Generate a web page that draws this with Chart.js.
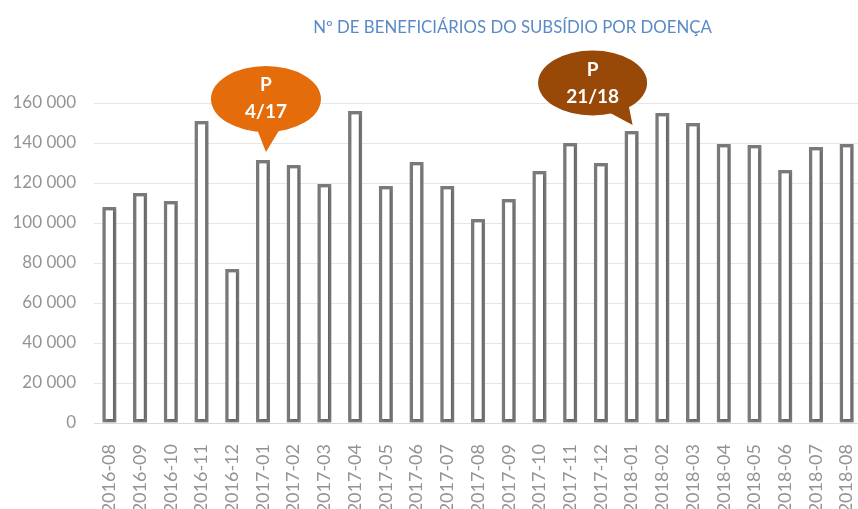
<!DOCTYPE html>
<html>
<head>
<meta charset="utf-8">
<script src="https://cdn.jsdelivr.net/npm/chart.js@4.4.1/dist/chart.umd.min.js"></script>
<style>
  html, body { margin: 0; padding: 0; background: #ffffff; }
  #wrap { width: 858px; height: 509px; overflow: hidden; position: relative; }
  canvas { display: block; }
</style>
</head>
<body>
<div id="wrap"><canvas id="c" width="864" height="522"></canvas></div>
<script>
// ---- Data ----
const categories = [
  "2016-08","2016-09","2016-10","2016-11","2016-12",
  "2017-01","2017-02","2017-03","2017-04","2017-05","2017-06","2017-07",
  "2017-08","2017-09","2017-10","2017-11","2017-12",
  "2018-01","2018-02","2018-03","2018-04","2018-05","2018-06","2018-07","2018-08"
];
const beneficiaries = [
  108000, 115000, 111000, 151000, 77000,
  131500, 129000, 119500, 156000, 118500, 130500, 118500,
  102000, 112000, 126000, 140000, 130000,
  146000, 155000, 150000, 139500, 139000, 126500, 138000, 139500
];
const chartTitle = "Nº DE BENEFICIÁRIOS DO SUBSÍDIO POR DOENÇA";
const calloutCategories = ["2017-01", "2018-01"];
const calloutLines = [["P", "4/17"], ["P", "21/18"]];
const yMin = 0, yMax = 160000, yStep = 20000;

// ---- Styling / layout (not data) ----
const calloutStyles = [
  { color: "#E46C0A", dx: 3, dy: -61, rx: 55, ry: 33, tail: [[-11, 25], [17, 25], [0, 53]], lineDy: [-14, 13] },
  { color: "#984807", dx: -39, dy: -48, rx: 54.5, ry: 32.5, tail: [[12, 27], [35, 17], [40, 42]], lineDy: [-13, 14] }
];

function fmt(v) {
  return String(v).replace(/\B(?=(\d{3})+(?!\d))/g, " ");
}

const titlePlugin = {
  id: "customTitle",
  afterDraw(chart) {
    const ctx = chart.ctx;
    ctx.save();
    let size = 18;
    ctx.font = size + "px Lato";
    const w = ctx.measureText(chartTitle).width;
    size = size * 399 / w;
    ctx.font = size.toFixed(2) + "px Lato";
    ctx.fillStyle = "#5A8AC6";
    ctx.textAlign = "center";
    ctx.textBaseline = "middle";
    ctx.fillText(chartTitle, 512.5, 28);
    ctx.restore();
  }
};

const calloutPlugin = {
  id: "callouts",
  afterDraw(chart) {
    const ctx = chart.ctx;
    const meta = chart.getDatasetMeta(0);
    calloutCategories.forEach((cat, k) => {
      const idx = categories.indexOf(cat);
      const bar = meta.data[idx];
      const st = calloutStyles[k];
      const cx = bar.x + st.dx, cy = bar.y + st.dy;
      ctx.save();
      ctx.fillStyle = st.color;
      ctx.beginPath();
      ctx.ellipse(cx, cy, st.rx, st.ry, 0, 0, Math.PI * 2);
      ctx.fill();
      ctx.beginPath();
      ctx.moveTo(cx + st.tail[0][0], cy + st.tail[0][1]);
      ctx.lineTo(cx + st.tail[1][0], cy + st.tail[1][1]);
      ctx.lineTo(cx + st.tail[2][0], cy + st.tail[2][1]);
      ctx.closePath();
      ctx.fill();
      ctx.fillStyle = "#ffffff";
      ctx.font = "bold 19px Lato";
      ctx.textAlign = "center";
      ctx.textBaseline = "middle";
      calloutLines[k].forEach((t, i) => {
        ctx.fillText(t, cx, cy + st.lineDy[i]);
      });
      ctx.restore();
    });
  }
};

const shadowPlugin = {
  id: "barShadow",
  beforeDatasetsDraw(chart) {
    const ctx = chart.ctx;
    ctx.save();
    ctx.shadowColor = "rgba(0,0,0,0.28)";
    ctx.shadowBlur = 3;
    ctx.shadowOffsetX = 1;
    ctx.shadowOffsetY = 1;
  },
  afterDatasetsDraw(chart) {
    chart.ctx.restore();
  }
};

function build() {
  Chart.defaults.font.family = "Lato";
  new Chart(document.getElementById("c"), {
    type: "bar",
    data: {
      labels: categories,
      datasets: [{
        data: beneficiaries,
        backgroundColor: "#ffffff",
        borderColor: "#7A7A7A",
        borderWidth: 3.5,
        borderSkipped: false,
        categoryPercentage: 1,
        barPercentage: 0.46
      }]
    },
    options: {
      responsive: false,
      animation: false,
      layout: { padding: { left: 0, right: 2, top: 103, bottom: 0 } },
      plugins: {
        legend: { display: false },
        title: { display: false },
        tooltip: { enabled: false }
      },
      scales: {
        x: {
          grid: { display: false, drawTicks: false },
          border: { display: true, color: "#D9D9D9", width: 1 },
          ticks: {
            color: "#939393",
            font: { size: 18 },
            minRotation: 90,
            maxRotation: 90,
            autoSkip: false,
            padding: 21
          },
          afterFit(scale) {
            scale.height = 99;
            scale.paddingLeft = 0;
            scale.paddingRight = 0;
          }
        },
        y: {
          min: yMin,
          max: yMax,
          grid: { color: "#E6E6E6", drawTicks: false, lineWidth: 1 },
          border: { display: false },
          ticks: {
            stepSize: yStep,
            color: "#939393",
            font: { size: 17 },
            padding: 18,
            callback: (v) => fmt(v)
          },
          afterFit(scale) {
            scale.width = 94;
            scale.paddingTop = 0;
            scale.paddingBottom = 0;
          }
        }
      }
    },
    plugins: [shadowPlugin, calloutPlugin, titlePlugin]
  });
}

if (document.fonts && document.fonts.load) {
  Promise.all([
    document.fonts.load("17px Lato"),
    document.fonts.load("bold 19px Lato")
  ]).then(build, build);
} else {
  build();
}
</script>
</body>
</html>
